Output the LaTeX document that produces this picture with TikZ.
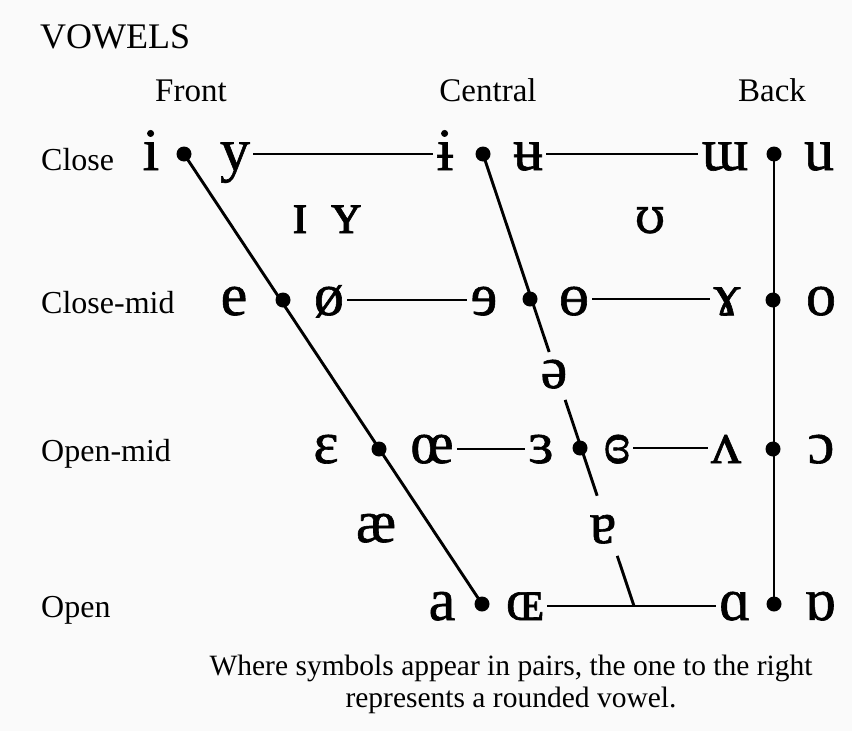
\documentclass[tikz,border=0pt]{standalone}
\usepackage{fontspec}
\setmainfont{Liberation Serif}
\newfontfamily\ipafont[FakeBold=1]{Liberation Serif}
\newfontfamily\ipaalt[FakeBold=0.5]{DejaVu Serif}
\usetikzlibrary{calc}
\begin{document}
\begin{tikzpicture}[x=1pt,y=-1pt,
  lab/.style={font=\fontsize{32}{36}\selectfont, anchor=base west, inner sep=0pt},
  head/.style={font=\fontsize{33}{36}\selectfont, anchor=base, inner sep=0pt},
  sym/.style={font=\ipafont\fontsize{60}{64}\selectfont, anchor=base, inner sep=3pt},
  dot/.style={circle, fill=black, inner sep=0pt, minimum size=15pt},
  edge/.style={line width=2.9pt, line cap=butt}]
\fill[gray!4] (0,0) rectangle (852,731);
\useasboundingbox (0,0) rectangle (852,731);

% labels
\node[lab, font=\fontsize{36}{40}\selectfont] (title) at (40,48) {VOWELS};
\node[head] (hF) at (191,101) {Front};
\node[head] (hC) at (488,101) {Central};
\node[head] (hB) at (772,101) {Back};
\node[lab] (lC) at (41,170) {Close};
\node[lab] (lCM) at (41,313) {Close-mid};
\node[lab] (lOM) at (41,461) {Open-mid};
\node[lab] (lO) at (41,617) {Open};

% dots
\node[dot] (dCF) at (184,154) {};
\node[dot] (dCC) at (483,154) {};
\node[dot] (dCB) at (774,154) {};
\node[dot] (dMF) at (283,300) {};
\node[dot] (dMC) at (530,299) {};
\node[dot] (dMB) at (773,300) {};
\node[dot] (dOMF) at (379,449) {};
\node[dot] (dOMC) at (580,448) {};
\node[dot] (dOMB) at (773,449) {};
\node[dot] (dOF) at (482,604) {};
\node[dot] (dOB) at (774,604) {};
\coordinate (cEnd) at (634,606);

% symbols: close
\node[sym] (si) at (151,170) {i};
\node[sym] (sy) at (235,170) {y};
\node[sym] (sib) at (445,170) {ɨ};
\node[sym] (sub) at (528,170) {ʉ};
\node[sym] (sm) at (725,170) {ɯ};
\node[sym] (su) at (819,170) {u};
% close-mid
\node[sym] (se) at (234,315) {e};
\node[sym] (soo) at (329,315) {ø};
\node[sym] (sre) at (484,315) {ɘ};
\node[sym] (sbo) at (574,315) {ɵ};
\node[sym] (sram) at (727,315) {ɤ};
\node[sym] (so) at (821,315) {o};
% open-mid
\node[sym] (seps) at (326,463) {ɛ};
\node[sym] (soe) at (432,463) {œ};
\node[sym] (srev) at (541,463) {ɜ};
\node[sym] (sclrev) at (617,463) {ɞ};
\node[sym] (swv) at (726,463) {ʌ};
\node[sym] (sop) at (821,463) {ɔ};
% open
\node[sym] (sa) at (442,620) {a};
\node[sym] (sOE) at (525,620) {ɶ};
\node[sym] (sal) at (735,620) {ɑ};
\node[sym] (sral) at (820,620) {ɒ};
% in-between
\node[sym] (sI) at (300,233) {ɪ};
\node[sym] (sY) at (346,233) {ʏ};
\node[sym, font=\ipaalt\fontsize{50}{54}\selectfont] (sU) at (650,233) {ʊ};
\node[sym] (sschwa) at (554,388) {ə};
\node[sym] (sae) at (376,542) {æ};
\node[sym] (sturna) at (603,543) {ɐ};

% connectors
\draw[edge] (dCF.center) -- (dOF.center);
\draw[edge] (dCB.center) -- (dOB.center);
\draw[edge] (dCC.center) -- ($(dCC.center)!0.438!(cEnd)$);
\draw[edge] ($(dCC.center)!0.544!(cEnd)$) -- ($(dCC.center)!0.756!(cEnd)$);
\draw[edge] ($(dCC.center)!0.889!(cEnd)$) -- (cEnd);

\draw[edge] (sy.east |- dCF) -- (sib.west |- dCF);
\draw[edge] (sub.east |- dCC) -- (sm.west |- dCC);
\draw[edge] (soo.east |- dMF) -- (sre.west |- dMF);
\draw[edge] (sbo.east |- dMC) -- (sram.west |- dMC);
\draw[edge] (soe.east |- dOMF) -- (srev.west |- dOMF);
\draw[edge] (sclrev.east |- dOMC) -- (swv.west |- dOMC);
\draw[edge] (sOE.east |- cEnd) -- (sal.west |- cEnd);

% footnote
\node[align=center, font=\fontsize{29.5}{32}\selectfont, inner sep=0pt] (fn) at (511,684)
  {Where symbols appear in pairs, the one to the right\\represents a rounded vowel.};
\end{tikzpicture}
\end{document}
